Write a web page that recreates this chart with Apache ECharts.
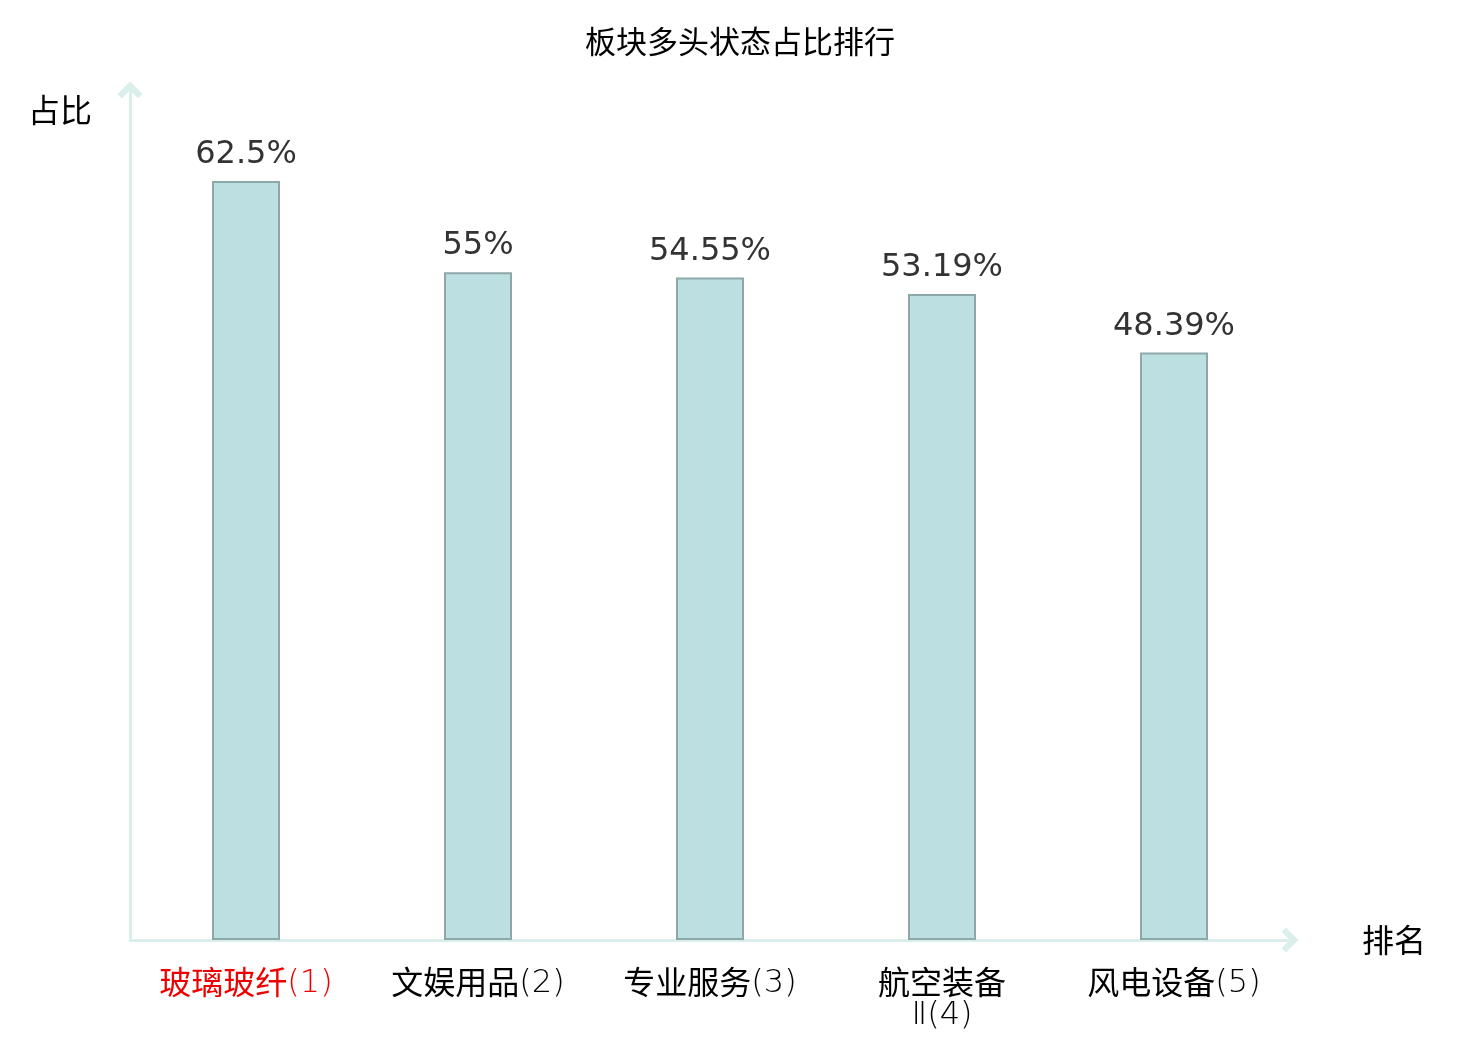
<!DOCTYPE html>
<html>
<head>
<meta charset="utf-8">
<title>板块多头状态占比排行</title>
<script src="https://cdn.jsdelivr.net/npm/echarts@6/dist/echarts.min.js"></script>
<style>
    html, body { margin: 0; padding: 0; background: #fff; }
    #chart { width: 1480px; height: 1040px; }
</style>
</head>
<body>
<div id="chart"></div>
<script>
// 板块名称（排名按顺序）
let sectors = ['玻璃玻纤', '文娱用品', '专业服务', '航空装备Ⅱ', '风电设备'];
// 多头状态占比 %
let ratios = [62.5, 55, 54.55, 53.19, 48.39];

let cjk = '"Noto Sans CJK SC", sans-serif';
// 排名数字用细体
let thin = '"DejaVu Sans", "Noto Sans CJK SC", sans-serif';
// 空心箭头
let arrow = 'path://M0,10 L10,0 L20,10 L16.5,13.5 L10,7 L3.5,13.5 Z';

window.onload = function () {
    let myChart = echarts.init(document.getElementById('chart'));

    let option = {
        backgroundColor: '#fff',
        title: {
            text: '板块多头状态占比排行',
            left: 'center',
            top: 21,
            textStyle: {
                fontFamily: cjk,
                fontSize: 31,
                fontWeight: 'normal',
                color: '#000'
            }
        },
        grid: {
            left: 130,
            right: 190,
            top: 90,
            bottom: 100
        },
        xAxis: {
            type: 'category',
            data: sectors,
            name: '排名',
            nameGap: 72,
            nameTextStyle: {
                fontFamily: cjk,
                fontSize: 32,
                color: '#000'
            },
            axisLine: {
                symbol: ['none', arrow],
                symbolSize: [26, 17],
                lineStyle: { color: '#daefec', width: 3 }
            },
            axisTick: { show: false },
            axisLabel: {
                interval: 0,
                margin: 26,
                fontSize: 32,
                lineHeight: 32,
                color: function (value, index) {
                    return index === 0 ? '#ee0000' : '#000';
                },
                formatter: function (name, i) {
                    let rank = '(' + (i + 1) + ')';
                    // 超过四个字的名称换行
                    if (name.length > 4) {
                        return '{n|' + name.slice(0, 4) + '}\n{r|' + name.slice(4) + rank + '}';
                    }
                    return '{n|' + name + '}{r|' + rank + '}';
                },
                rich: {
                    n: {
                        fontFamily: cjk,
                        fontSize: 32,
                        lineHeight: 32
                    },
                    r: {
                        fontFamily: thin,
                        fontWeight: 200,
                        fontSize: 32,
                        lineHeight: 32,
                        padding: [4, 0, 0, 0]
                    }
                }
            }
        },
        yAxis: {
            type: 'value',
            min: 0,
            max: 70,
            name: '占比',
            nameGap: -20,
            nameTextStyle: {
                fontFamily: cjk,
                fontSize: 32,
                color: '#000',
                align: 'right',
                verticalAlign: 'middle',
                padding: [0, 38, 0, 0]
            },
            axisLine: {
                show: true,
                symbol: ['none', arrow],
                symbolSize: [26, 17],
                lineStyle: { color: '#daefec', width: 3 }
            },
            axisTick: { show: false },
            axisLabel: { show: false },
            splitLine: { show: false }
        },
        series: [{
            type: 'bar',
            data: ratios,
            barWidth: 68,
            itemStyle: {
                color: '#bce0e2',
                borderColor: '#8ea8a9',
                borderWidth: 2
            },
            label: {
                show: true,
                position: 'top',
                distance: 10,
                fontFamily: '"DejaVu Sans", sans-serif',
                fontSize: 32,
                color: '#333',
                formatter: '{c}%'
            }
        }]
    };

    myChart.setOption(option);
};
</script>
</body>
</html>
